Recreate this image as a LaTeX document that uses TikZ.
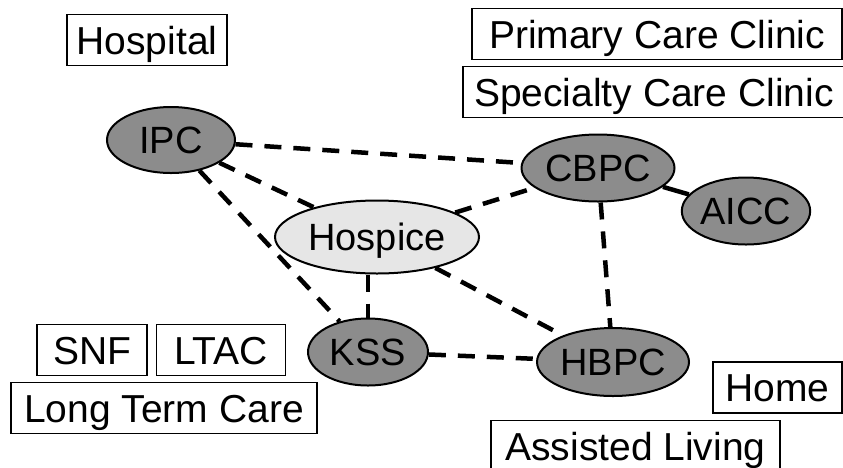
\documentclass[tikz,border=0pt]{standalone}
\usepackage{fontspec}
\setmainfont{Liberation Sans}
\usetikzlibrary{positioning, shapes.geometric}
\tikzset{
    Site/.style = {
        draw, line width=1.5pt, rectangle, inner sep=0pt,
        font=\fontsize{39}{46}\selectfont,
        minimum height=51pt, text height=28pt, text depth=0pt
    },
    Program/.style = {
        draw, line width=2pt, ellipse, inner sep=0pt,
        font=\fontsize{38}{45}\selectfont,
        fill=#1, text height=27pt, text depth=0pt
    },
    Program/.default={pFill},
    Link/.style = {
        line width=4.5pt, dash pattern=on 17pt off 12pt
    }
}
\definecolor{pFill}{HTML}{8C8C8C}
\definecolor{hFill}{HTML}{E6E6E6}

\begin{document}
\begin{tikzpicture}[x=1pt, y=-1pt]
    \clip (0,0) rectangle (843,467);
    % care programs
    \node [Program, minimum width=128pt, minimum height=66pt] (IPC) at (171,140) {IPC};
    \node [Program, minimum width=153pt, minimum height=67pt] (CBPC) at (598,168) {CBPC};
    \node [Program, minimum width=128pt, minimum height=67pt] (AICC) at (746,211) {AICC};
    \node [Program=hFill, minimum width=204pt, minimum height=73pt] (Hospice) at (377,237) {Hospice};
    \node [Program, minimum width=120pt, minimum height=67pt] (KSS) at (368,352) {KSS};
    \node [Program, minimum width=152pt, minimum height=68pt] (HBPC) at (613,362) {HBPC};
    % settings
    \node [Site, minimum width=160pt] (Hosp) at (147,40) {Hospital};
    \node [Site, minimum width=370pt] (PCC) at (657,34) {Primary Care Clinic};
    \node [Site, minimum width=382pt] (SCC) at (654,92) {Specialty Care Clinic};
    \node [Site, minimum width=110pt] (SNF) at (92,350) {SNF};
    \node [Site, minimum width=129pt, right=8pt of SNF] (LTAC) {LTAC};
    \node [Site, minimum width=306pt] (LTC) at (164,408) {Long Term Care};
    \node [Site, minimum width=129pt] (Home) at (777.5,387.5) {Home};
    \node [Site, minimum width=289pt] (AL) at (635.5,446) {Assisted Living};
    % links
    \draw [Link] (IPC) to (CBPC);
    \draw [Link] (IPC) to (Hospice);
    \draw [Link] (IPC) to (KSS);
    \draw [Link] (Hospice) to (CBPC);
    \draw [Link] (CBPC) to (HBPC);
    \draw [Link] (KSS.north |- Hospice.south) to (KSS);
    \draw [Link] (Hospice) to (HBPC);
    \draw [Link] (KSS) to (HBPC);
    \draw [line width=4.5pt] (CBPC) to (AICC);
\end{tikzpicture}
\end{document}
